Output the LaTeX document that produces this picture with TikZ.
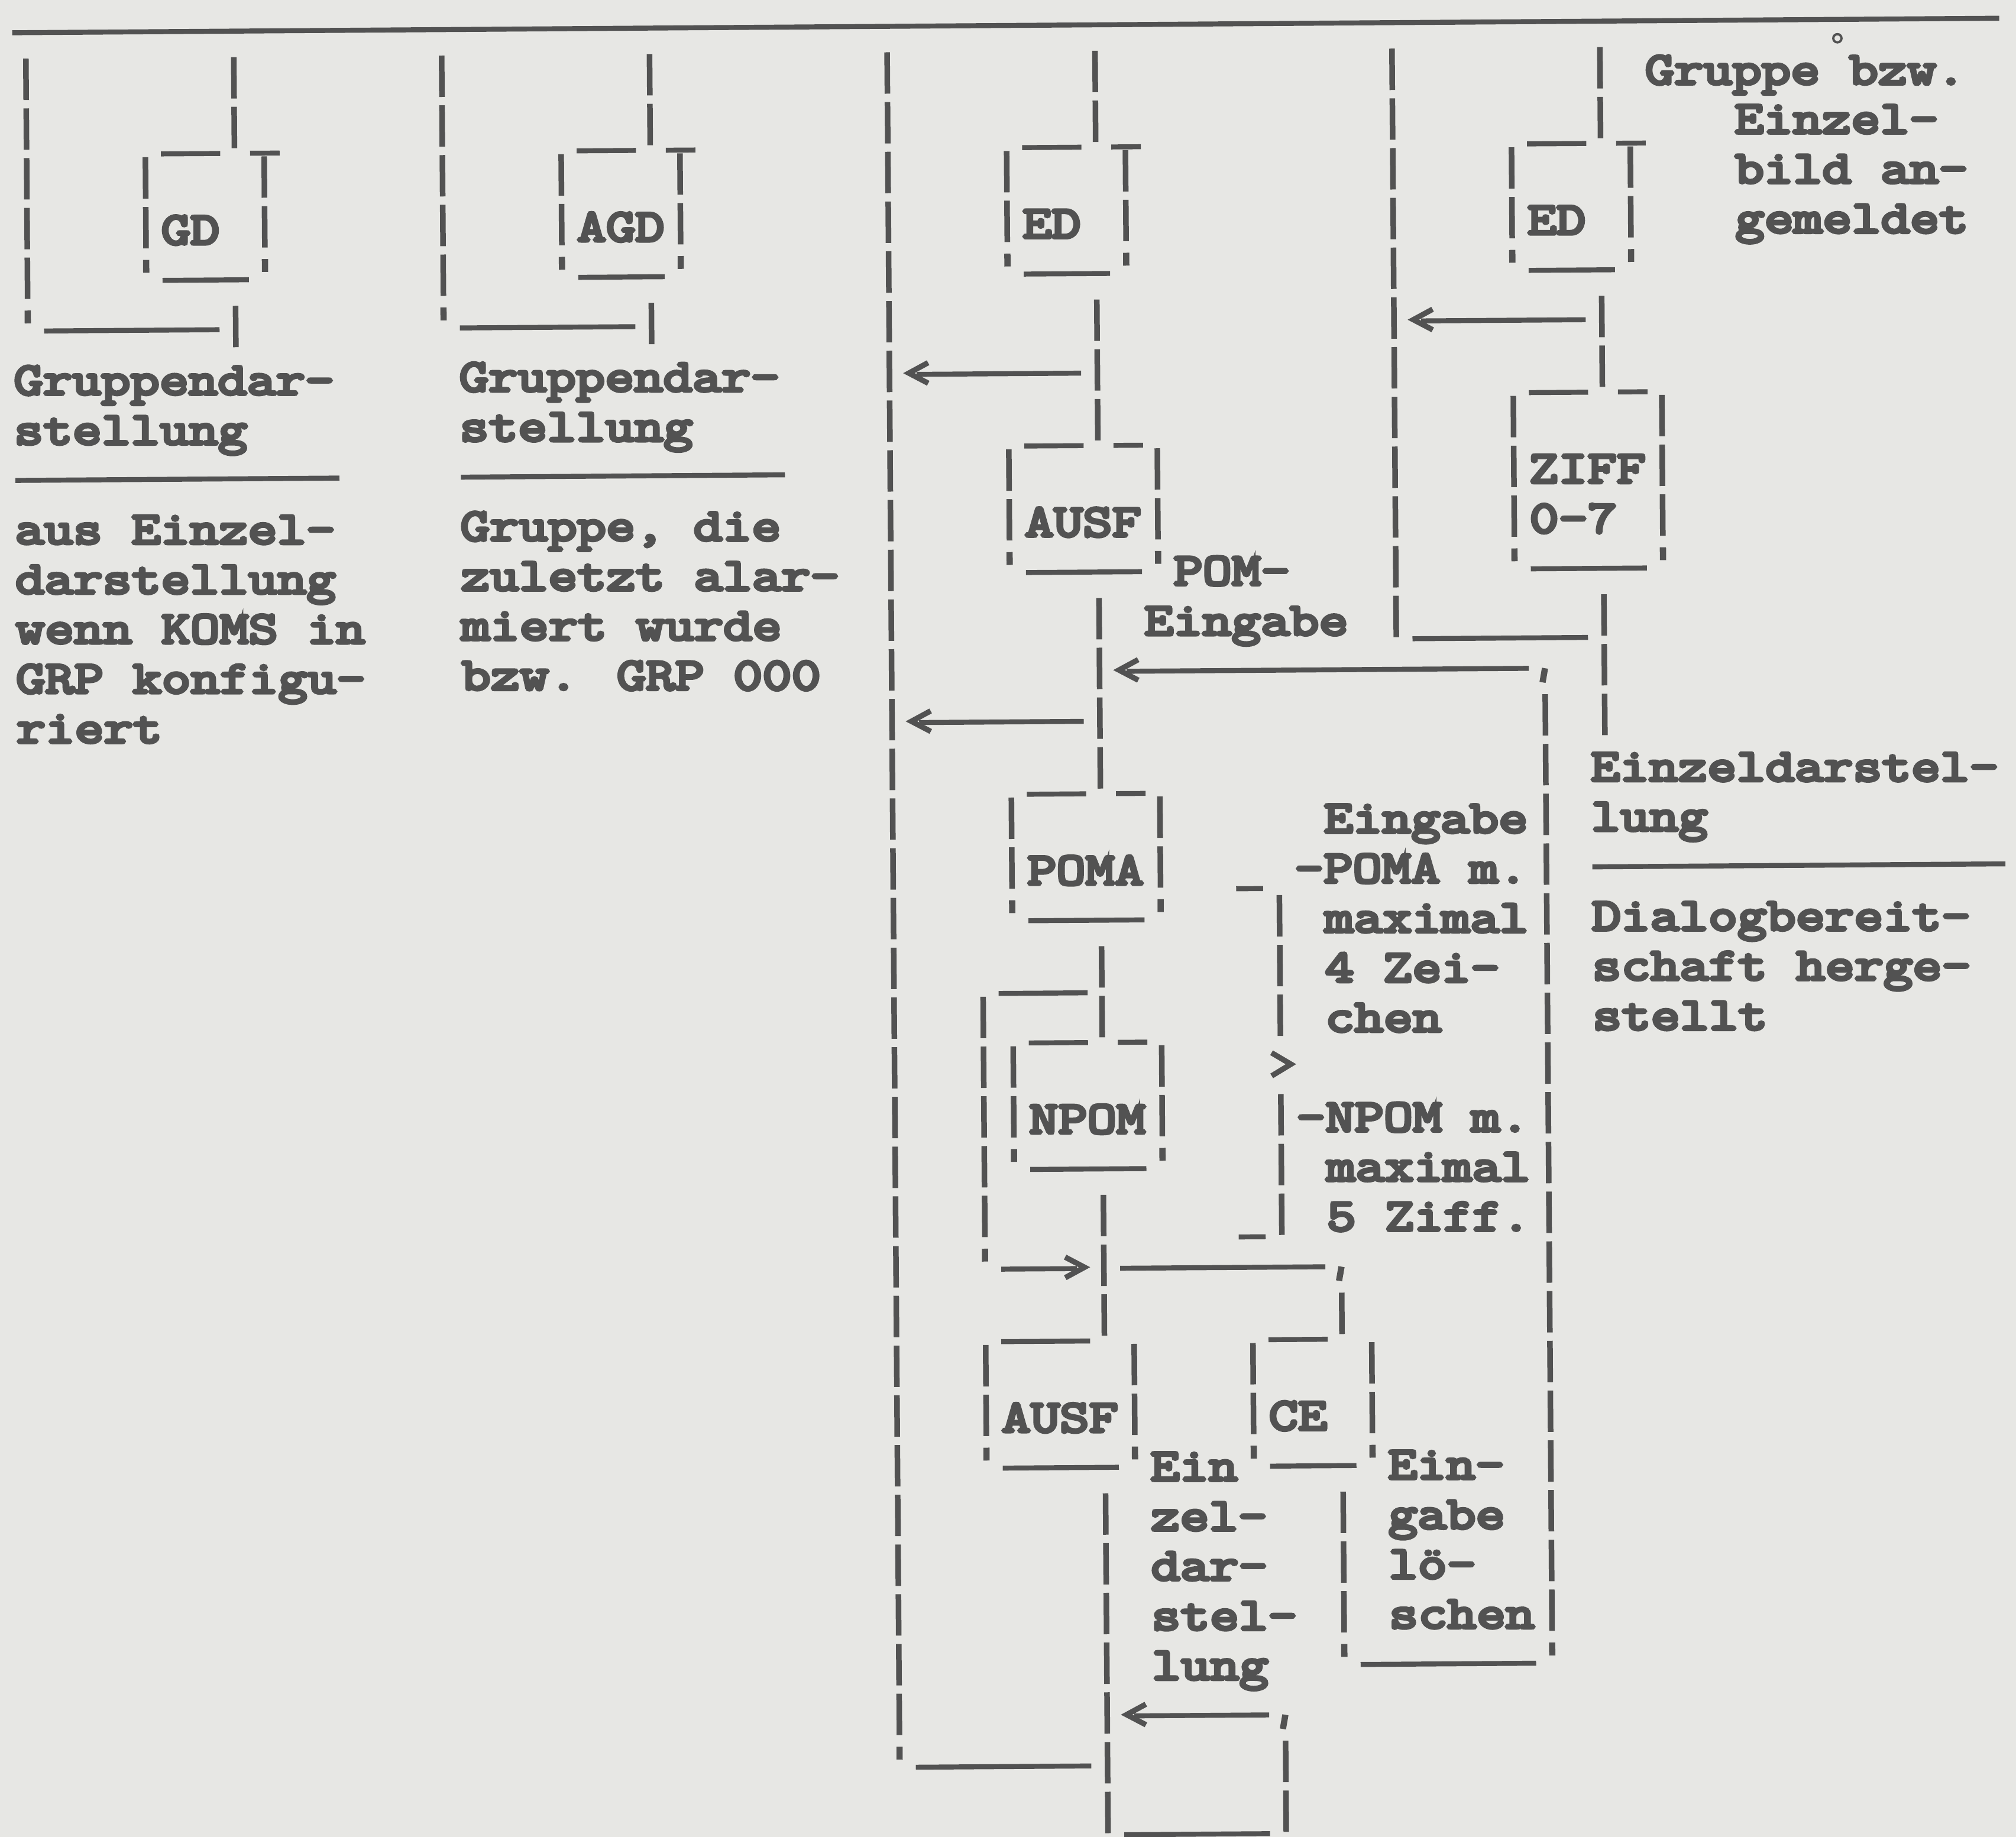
\documentclass[tikz,border=0pt]{standalone}
\usepackage{fontspec}
\newfontfamily\twfont{Latin Modern Mono}[FakeStretch=1.237,FakeBold=7]
\definecolor{ink}{RGB}{82,82,82}
\definecolor{paper}{RGB}{231,231,228}
% grid helpers (typewriter columns X, rows Y)
\newcommand\twV[3]{\draw[vbar] ({X(#1)},{Y(#2)-19.5}) -- ({X(#1)},{Y(#3)+12.7});}
\newcommand\twK[2]{\draw[tick] ({X(#1)},{Y(#2)-17}) -- ({X(#1)},{Y(#2)-7});}
\newcommand\twC[2]{\draw[tick] ({X(#1)},{Y(#2)-1}) -- ({X(#1)-2},{Y(#2)+10});}
\newcommand\twM[3]{\draw[hbar] ({X(#1)-10.5},{Y(#3)-1}) -- ({X(#2)+10.5},{Y(#3)-1});}
\newcommand\twU[3]{\draw[hbar] ({X(#1)-10.5},{Y(#3)+14}) -- ({X(#2)+10.5},{Y(#3)+14});}
\newcommand\twT[3]{\draw[hbar] ({X(#1)-11},{Y(#3)-22}) -- ({X(#2)+12},{Y(#3)-22});}
\newcommand\twL[3]{\draw[chev] ({X(#1)+7},{Y(#3)-10}) -- ({X(#1)-8},{Y(#3)-2}) -- ({X(#1)+7},{Y(#3)+6});
  \draw[hbar] ({X(#1)-2},{Y(#3)-1}) -- ({X(#2)+10.5},{Y(#3)-1});}
\newcommand\twR[3]{\draw[hbar] ({X(#1)-10.5},{Y(#3)-1}) -- ({X(#2)+2},{Y(#3)-1});
  \draw[chev] ({X(#2)-7},{Y(#3)-10}) -- ({X(#2)+8},{Y(#3)-2}) -- ({X(#2)-7},{Y(#3)+6});}
\newcommand\twG[2]{\draw[chev] ({X(#1)-7},{Y(#2)-13}) -- ({X(#1)+8},{Y(#2)-4}) -- ({X(#1)-7},{Y(#2)+5});}
\newcommand\twX[4]{\node[txt] (#1) at ({X(#2)-11.55},{Y(#3)+9.5}) {#4};}
\begin{document}
\begin{tikzpicture}[x=0.02174cm,y=-0.02174cm,
  declare function={X(\k)=25+23.1*\k; Y(\r)=59.5+38.7*\r;},
  vbar/.style={draw=ink,line width=2.7pt,dash pattern=on 19.92pt off 4.02pt},
  hbar/.style={draw=ink,line width=2.4pt},
  tick/.style={draw=ink,line width=3pt},
  chev/.style={draw=ink,line width=2.6pt},
  txt/.style={anchor=base west,inner sep=0pt,text=ink,
    font=\twfont\fontsize{22pt}{24pt}\selectfont}]
\fill[paper] (0,0) rectangle (1568,1429);
\useasboundingbox (0,0) rectangle (1568,1429);
\begin{scope}[rotate around={0.42:(784,714)}]
% top rule
\twM{0}{66}{-1}
% ---------- column A : GD ----------
\twV{0}{0}{4} \twK{0}{5} \twM{1}{6}{5} \twV{7}{5}{5}
\twV{7}{0}{1}
\twT{5}{6}{2} \twT{8}{8}{2}
\twV{4}{2}{3} \twV{8}{2}{3}
\twK{4}{4} \twM{5}{7}{4} \twK{8}{4}
\twX{tGD}{5}{3}{GD}
\twX{a1}{0}{6}{Gruppendar-}
\twX{a2}{0}{7}{stellung}
\twM{0}{10}{8}
\twX{a3}{0}{9}{aus Einzel-}
\twX{a4}{0}{10}{darstellung}
\twX{a5}{0}{11}{wenn KOMS in}
\twX{a6}{0}{12}{GRP konfigu-}
\twX{a7}{0}{13}{riert}
% ---------- column B : AGD ----------
\twV{14}{0}{4} \twK{14}{5} \twM{15}{20}{5} \twV{21}{5}{5}
\twV{21}{0}{1}
\twT{19}{20}{2} \twT{22}{22}{2}
\twV{18}{2}{3} \twV{22}{2}{3}
\twK{18}{4} \twM{19}{21}{4} \twK{22}{4}
\twX{tAGD}{19}{3}{AGD}
\twX{b1}{15}{6}{Gruppendar-}
\twX{b2}{15}{7}{stellung}
\twM{15}{25}{8}
\twX{b3}{15}{9}{Gruppe, die}
\twX{b4}{15}{10}{zuletzt alar-}
\twX{b5}{15}{11}{miert wurde}
\twX{b6}{15}{12}{bzw. GRP 000}
% ---------- column C ----------
\twV{29}{0}{33} \twK{29}{34} \twM{30}{35}{34}
\twV{36}{0}{1}
% ED 1
\twT{34}{35}{2} \twT{37}{37}{2} \twV{33}{2}{3} \twV{37}{2}{3}
\twK{33}{4} \twM{34}{36}{4} \twK{37}{4}
\twX{tED1}{34}{3}{ED}
\twV{36}{5}{7}
\twL{30}{35}{6}
% AUSF 1
\twT{34}{35}{8} \twT{37}{37}{8} \twV{33}{8}{9} \twV{38}{8}{9}
\twK{33}{10} \twM{34}{37}{10} \twK{38}{10}
\twX{tAUSF1}{34}{9}{AUSF}
\twX{pom1}{39}{10}{POM-}
\twX{pom2}{38}{11}{Eingabe}
\twV{36}{11}{14}
\twL{37}{50}{12} \twC{51}{12} \twV{51}{13}{31} \twK{51}{32}
\twL{30}{35}{13}
% POMA
\twT{34}{35}{15} \twT{37}{37}{15} \twV{33}{15}{16} \twV{38}{15}{16}
\twK{33}{17} \twM{34}{37}{17} \twK{38}{17}
\twX{tPOMA}{34}{16}{POMA}
\twV{36}{18}{19}
% bypass around NPOM
\twT{33}{35}{19} \twV{32}{19}{23} \twK{32}{24} \twR{33}{35}{24}
% NPOM
\twT{34}{35}{20} \twT{37}{37}{20} \twV{33}{20}{21} \twV{38}{20}{21}
\twK{33}{22} \twM{34}{37}{22} \twK{38}{22}
\twX{tNPOM}{34}{21}{NPOM}
\twV{36}{23}{25}
\twM{37}{43}{24} \twC{44}{24} \twV{44}{25}{25}
% AUSF 2
\twT{33}{35}{26} \twV{32}{26}{27} \twV{37}{26}{27}
\twK{32}{28} \twM{33}{36}{28} \twK{37}{28}
\twX{tAUSF2}{33}{27}{AUSF}
% CE
\twT{42}{43}{26} \twV{41}{26}{27} \twV{45}{26}{27}
\twK{41}{28} \twM{42}{44}{28} \twK{45}{28}
\twX{tCE}{42}{27}{CE}
\twV{44}{29}{31} \twK{44}{32} \twM{45}{50}{32}
\twV{36}{29}{35}
\twL{37}{41}{33} \twC{42}{33} \twV{42}{34}{35}
\twU{37}{41}{35}
\twX{e1}{38}{28}{Ein}
\twX{e2}{38}{29}{zel-}
\twX{e3}{38}{30}{dar-}
\twX{e4}{38}{31}{stel-}
\twX{e5}{38}{32}{lung}
\twX{f1}{46}{28}{Ein-}
\twX{f2}{46}{29}{gabe}
\twX{f3}{46}{30}{lö-}
\twX{f4}{46}{31}{schen}
% brace and annotation
\twU{41}{41}{16} \twV{42}{17}{19} \twG{42}{20} \twV{42}{21}{23} \twU{41}{41}{23}
\twX{g1}{44}{15}{Eingabe}
\twX{g2}{43}{16}{-POMA m.}
\twX{g3}{44}{17}{maximal}
\twX{g4}{44}{18}{4 Zei-}
\twX{g5}{44}{19}{chen}
\twX{g6}{43}{21}{-NPOM m.}
\twX{g7}{44}{22}{maximal}
\twX{g8}{44}{23}{5 Ziff.}
% ---------- column D ----------
\twV{46}{0}{11} \twU{47}{52}{11}
\twV{53}{0}{1}
\twT{51}{52}{2} \twT{54}{54}{2} \twV{50}{2}{3} \twV{54}{2}{3}
\twK{50}{4} \twM{51}{53}{4} \twK{54}{4}
\twX{tED2}{51}{3}{ED}
\twV{53}{5}{6}
\twL{47}{52}{5}
% ZIFF
\twT{51}{52}{7} \twT{54}{54}{7} \twV{50}{7}{9} \twV{55}{7}{9}
\twK{50}{10} \twM{51}{54}{10} \twK{55}{10}
\twX{tZIFF}{51}{8}{ZIFF}
\twX{tZ07}{51}{9}{0-7}
\twV{53}{11}{13}
% right texts
\draw[ink,line width=1.1pt] ({X(61)},{Y(0)-25}) circle (3.2);
\twX{h1}{55}{0}{Gruppe bzw.}
\twX{h2}{58}{1}{Einzel-}
\twX{h3}{58}{2}{bild an-}
\twX{h4}{58}{3}{gemeldet}
\twX{k1}{53}{14}{Einzeldarstel-}
\twX{k2}{53}{15}{lung}
\twM{53}{66}{16}
\twX{k3}{53}{17}{Dialogbereit-}
\twX{k4}{53}{18}{schaft herge-}
\twX{k5}{53}{19}{stellt}
\end{scope}
\end{tikzpicture}
\end{document}
